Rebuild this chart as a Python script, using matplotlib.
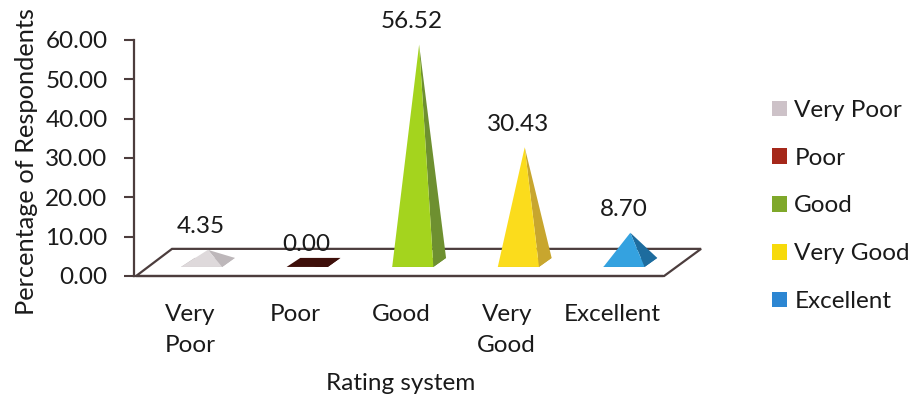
import matplotlib
matplotlib.use("Agg")
import matplotlib.pyplot as plt
from matplotlib.patches import Polygon, Patch
from matplotlib.transforms import ScaledTranslation

plt.rcParams['font.family'] = ['Lato', 'DejaVu Sans']

# values
categories = ["Very Poor", "Poor", "Good", "Very Good", "Excellent"]
tick_labels = ["Very\nPoor", "Poor", "Good", "Very\nGood", "Excellent"]
values = [4.35, 0.00, 56.52, 30.43, 8.70]
value_labels = ["4.35", "0.00", "56.52", "30.43", "8.70"]
y_ticks = [0, 10, 20, 30, 40, 50, 60]

front_colors = ["#ded9db", "#7c1c12", "#a4d41e", "#fbdc1c", "#34a2e0"]
side_colors = ["#bdb7ba", "#3e0f0a", "#6e9030", "#c8a62e", "#1d6c9e"]
legend_colors = ["#cdc2c8", "#a5281a", "#7fa82a", "#f7da0a", "#2c86d2"]

line_color = "#4c3d3d"
text_color = "#1a1a1a"
font_size = 17.5

W, H = 912, 399
fig = plt.figure(figsize=(W / 100, H / 100), dpi=100)
# axes box in pixels: left 134, right 662, top 40, bottom 276
ax = fig.add_axes([134 / W, 1 - 276 / H, 528 / W, 236 / H])
ax.set_xlim(-0.7, 4.3)
ax.set_ylim(0, 60)

# floor of the fake 3d chart
floor = Polygon([(-0.68, 0), (-0.34, 6.9), (4.67, 6.9), (4.32, 0)], closed=True,
                facecolor="white", edgecolor=line_color, linewidth=1.6,
                clip_on=False, zorder=1)
ax.add_patch(floor)

base_front = 2.3
base_back = 4.6
for i, val in enumerate(values):
    fl = (i - 0.255, base_front)
    fr = (i + 0.135, base_front)
    br = (i + 0.255, base_back)
    bl = (i - 0.125, base_back)
    apex = (i, val + base_front)
    ax.add_patch(Polygon([fl, fr, br, bl], facecolor=side_colors[i], edgecolor="none", zorder=2))
    ax.add_patch(Polygon([fr, br, apex], facecolor=side_colors[i], edgecolor="none", zorder=3))
    ax.add_patch(Polygon([fl, fr, apex], facecolor=front_colors[i], edgecolor="none", zorder=4))
    ax.annotate(value_labels[i], (i, val), xytext=(-5, 23), textcoords="offset points",
                ha="center", va="center", fontsize=font_size, color=text_color,
                annotation_clip=False, zorder=6)

ax.set_yticks(y_ticks)
ax.set_yticklabels(["%.2f" % t for t in y_ticks])
ax.set_xticks(range(len(tick_labels)))
ax.set_xticklabels(tick_labels, linespacing=1.58)
ax.tick_params(axis="y", length=7, width=1.5, color=line_color, labelsize=font_size,
               labelcolor=text_color, pad=12)
ax.tick_params(axis="x", length=0, labelsize=font_size, labelcolor=text_color, pad=20)

# x labels sit left of the pyramids in the original
shift = ScaledTranslation(-18 / 100, 0, fig.dpi_scale_trans)
for lab in ax.get_xticklabels():
    lab.set_transform(lab.get_transform() + shift)

for s in ["top", "right"]:
    ax.spines[s].set_visible(False)
for s in ["left", "bottom"]:
    ax.spines[s].set_color(line_color)
    ax.spines[s].set_linewidth(1.6)

fig.text(401 / W, 1 - 383 / H, "Rating system", ha="center", va="center",
         fontsize=font_size, color=text_color)
fig.text(27 / W, 1 - 162 / H, "Percentage of Respondents", rotation=90, ha="center",
         va="center", fontsize=18.3, color=text_color)

handles = [Patch(facecolor=c, edgecolor="none") for c in legend_colors]
fig.legend(handles, categories, loc="center left", bbox_to_anchor=(772 / W, 1 - 206 / H),
           frameon=False, fontsize=font_size, labelspacing=1.1, handlelength=0.62,
           handleheight=0.62, handletextpad=0.3, borderpad=0, borderaxespad=0,
           labelcolor=text_color)

fig.savefig("out.png", dpi=100)
